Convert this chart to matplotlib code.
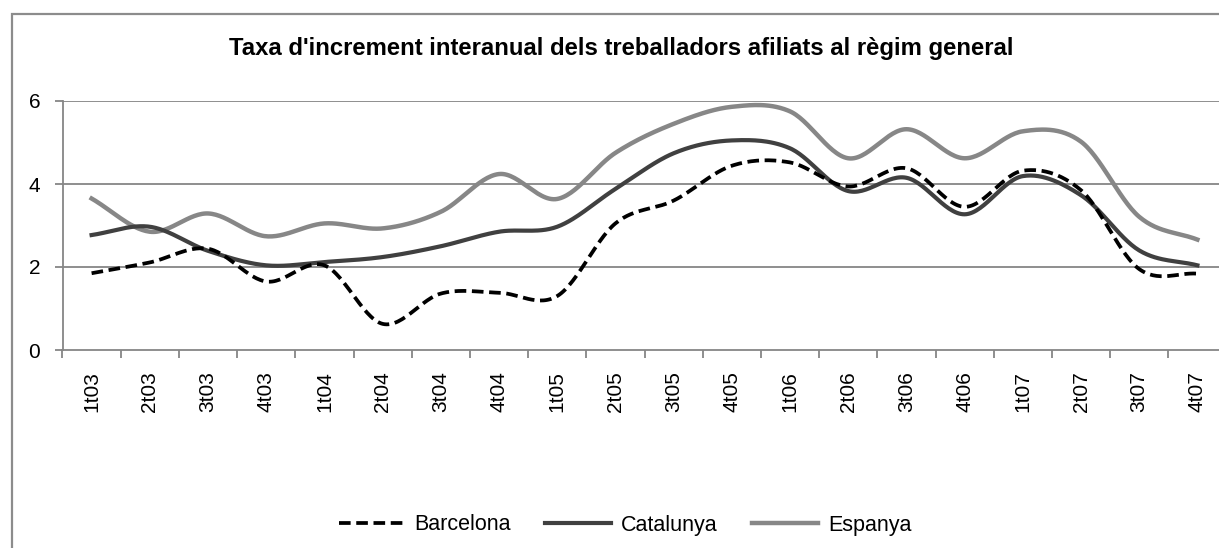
import numpy as np
import matplotlib
matplotlib.use("Agg")
import matplotlib.pyplot as plt
import matplotlib.patches as patches

plt.rcParams['font.family'] = ['Liberation Sans', 'DejaVu Sans']

# quarters
cats = ['1t03', '2t03', '3t03', '4t03', '1t04', '2t04', '3t04', '4t04',
        '1t05', '2t05', '3t05', '4t05', '1t06', '2t06', '3t06', '4t06',
        '1t07', '2t07', '3t07', '4t07']

barcelona = [1.85, 2.11, 2.44, 1.65, 2.04, 0.63, 1.36, 1.38, 1.30, 3.05,
             3.60, 4.44, 4.52, 3.94, 4.38, 3.45, 4.32, 3.85, 1.95, 1.84]
catalunya = [2.77, 2.97, 2.39, 2.04, 2.12, 2.24, 2.50, 2.85, 2.97, 3.88,
             4.74, 5.05, 4.86, 3.83, 4.15, 3.27, 4.19, 3.73, 2.40, 2.04]
espanya = [3.65, 2.85, 3.29, 2.74, 3.05, 2.93, 3.33, 4.24, 3.64, 4.75,
           5.45, 5.86, 5.75, 4.62, 5.32, 4.62, 5.27, 5.02, 3.21, 2.66]

yticks = [0, 2, 4, 6]


def smooth(y, n=30):
    # catmull-rom style curve through every point (like excel "smoothed line")
    y = np.asarray(y, dtype=float)
    x = np.arange(len(y), dtype=float)
    m = np.zeros_like(y)
    m[1:-1] = (y[2:] - y[:-2]) / 2
    m[0] = y[1] - y[0]
    m[-1] = y[-1] - y[-2]
    xs, ys = [], []
    for i in range(len(y) - 1):
        t = np.linspace(0, 1, n, endpoint=False)
        h00 = 2*t**3 - 3*t**2 + 1
        h10 = t**3 - 2*t**2 + t
        h01 = -2*t**3 + 3*t**2
        h11 = t**3 - t**2
        xs.append(x[i] + t)
        ys.append(h00*y[i] + h10*m[i] + h01*y[i+1] + h11*m[i+1])
    xs.append([x[-1]])
    ys.append([y[-1]])
    return np.concatenate(xs), np.concatenate(ys)


W, H = 1219, 548
fig = plt.figure(figsize=(W/100, H/100), dpi=100)

# chart border (right and bottom are cut off in the original)
fig.patches.append(patches.Rectangle((12/W, -0.1), 1.2, 1.1 - 14/H,
                                     transform=fig.transFigure, fill=False,
                                     edgecolor='#8c8c8c', linewidth=1.6))

left, right, y0, y6 = 62.5, 1226.5, 350, 101
ax = fig.add_axes([left/W, (H - y0)/H, (right - left)/W, (y0 - y6)/H])

grid_c = '#868686'
x = np.arange(len(cats))
for y in yticks[1:]:
    ax.axhline(y, color=grid_c, lw=1.3, zorder=1)

ax.plot(*smooth(espanya), color='#878787', lw=3.2, label='Espanya', zorder=3)
ax.plot(*smooth(catalunya), color='#404040', lw=3.0, label='Catalunya', zorder=4)
ax.plot(*smooth(barcelona), color='black', lw=2.7, dashes=(3.1, 1.5),
        label='Barcelona', zorder=5)

ax.set_xlim(-0.5, len(cats) - 0.5)
ax.set_ylim(0, 6)
ax.set_yticks(yticks)
ax.set_yticklabels([str(v) for v in yticks])
ax.set_xticks(np.arange(len(cats) + 1) - 0.5)
ax.set_xticklabels([])
ax.set_xticks(x, minor=True)
ax.set_xticklabels(cats, minor=True, rotation=90)
ax.tick_params(axis='x', which='minor', length=0, pad=15, labelsize=15)
ax.tick_params(axis='x', which='major', length=6, width=1.3, color=grid_c,
               direction='out')
ax.tick_params(axis='y', length=6, width=1.3, color=grid_c, pad=10,
               labelsize=15)

for s in ['top', 'right']:
    ax.spines[s].set_visible(False)
for s in ['left', 'bottom']:
    ax.spines[s].set_color(grid_c)
    ax.spines[s].set_linewidth(1.3)

fig.text(621.5/W, 1 - 48.5/H, "Taxa d'increment interanual dels treballadors afiliats al règim general",
         ha='center', va='center', fontsize=17.2, fontweight='bold')

h, l = ax.get_legend_handles_labels()
fig.legend(h[::-1], l[::-1], loc='center', bbox_to_anchor=(625/W, 1 - 525/H),
           ncol=3, frameon=False, fontsize=15.5, handlelength=3.05,
           handletextpad=0.47, columnspacing=1.6)

fig.savefig('out.png', dpi=100)
